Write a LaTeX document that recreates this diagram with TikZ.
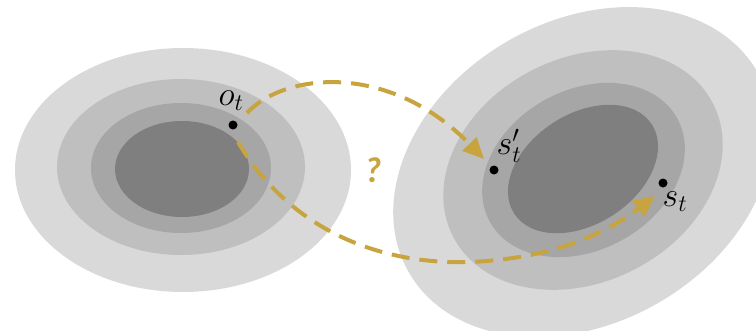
\documentclass[tikz,border=0pt]{standalone}
\usepackage{fix-cm}
\usepackage{fontspec}
\newfontfamily\qfont{Carlito}
\usetikzlibrary{arrows.meta}
\definecolor{g1}{HTML}{D9D9D9}
\definecolor{g2}{HTML}{BFBFBF}
\definecolor{g3}{HTML}{A6A6A6}
\definecolor{g4}{HTML}{7F7F7F}
\definecolor{gold}{HTML}{C8A43E}
\begin{document}
\begin{tikzpicture}[x=1pt,y=-1pt,
  flow/.style={draw=gold,line width=4pt,dash pattern=on 18pt off 10pt,-{Triangle[length=21pt,width=19pt]}},
  dot/.style={circle,fill=black,inner sep=0pt,minimum size=9pt},
  lbl/.style={inner sep=0pt,font=\fontsize{34}{38}\selectfont}]
\useasboundingbox (0,0) rectangle (756,330);
% left distribution
\fill[g1] (183,170) ellipse [x radius=168, y radius=122];
\fill[g2] (181,167) ellipse [x radius=124, y radius=88];
\fill[g3] (181,168) ellipse [x radius=90, y radius=65];
\fill[g4] (182,169) ellipse [x radius=67, y radius=48];
% right distribution
\begin{scope}
\clip (0,0) rectangle (756,330);
\fill[g1,rotate around={30:(583,172)}] (583,172) ellipse [x radius=201, y radius=151];
\fill[g2,rotate around={27:(583,170)}] (583,170) ellipse [x radius=146, y radius=112];
\fill[g3,rotate around={29:(583.5,170)}] (583.5,170) ellipse [x radius=107, y radius=80];
\fill[g4,rotate around={33:(583,169)}] (583,169) ellipse [x radius=82, y radius=55];
\end{scope}
% points
\node[dot] (o) at (233,125) {};
\node[dot] (sp) at (494,170) {};
\node[dot] (s) at (663,183) {};
\node[lbl] (ol) at (231,101) {$o_t$};
\node[lbl] (spl) at (509,146) {$s'_t$};
\node[lbl] (sl) at (675,202) {$s_t$};
\node[font=\qfont\bfseries\itshape\fontsize{36}{40}\selectfont,text=gold,inner sep=0pt] (q) at (373,170) {?};
% arrows
\coordinate (a1) at (247,113);
\coordinate (a2) at (484,159);
\coordinate (b1) at (238,142);
\coordinate (bm) at (470,262);
\coordinate (b2) at (655,196);
\draw[flow] (a1) .. controls (285,72) and (390,62) .. (a2);
\draw[flow] (b1) .. controls (290,230) and (380,265) .. (bm) .. controls (560,258) and (610,230) .. (b2);
\end{tikzpicture}
\end{document}
